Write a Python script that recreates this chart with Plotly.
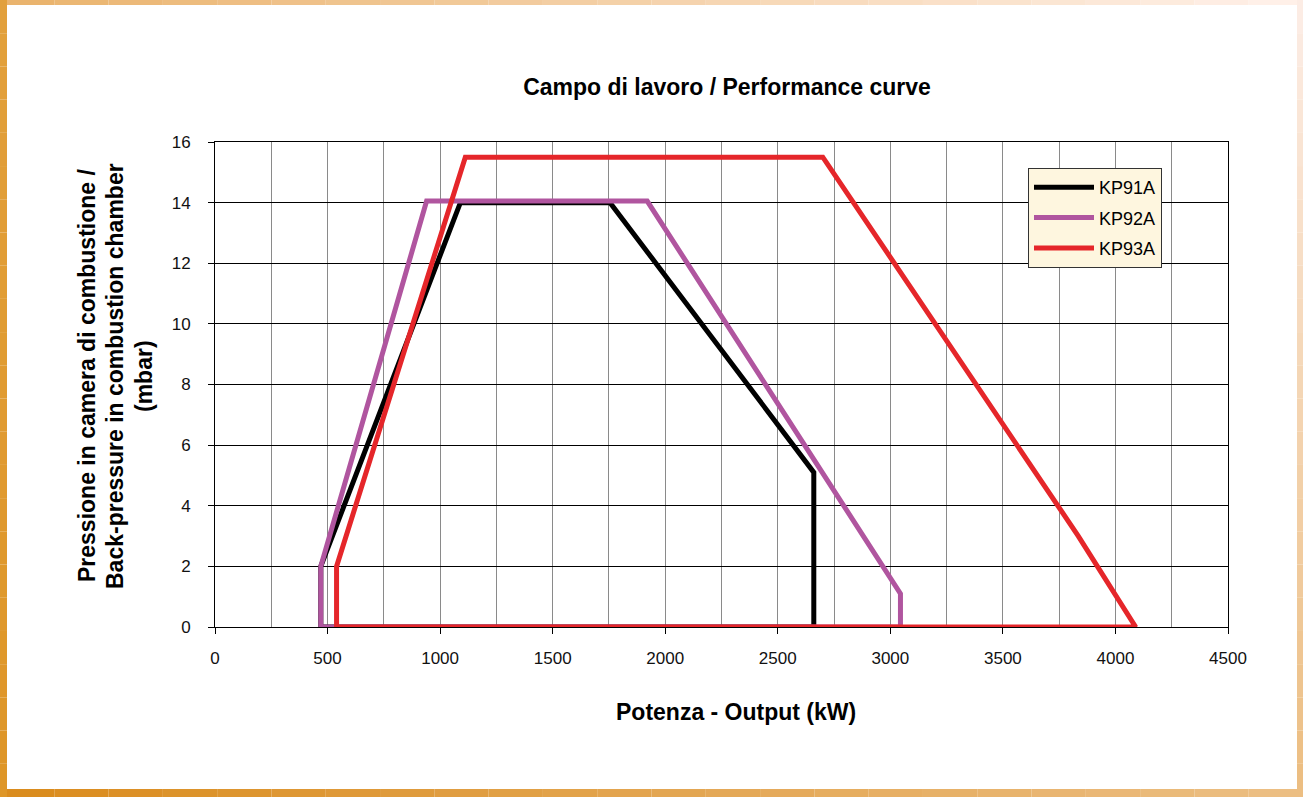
import plotly.graph_objects as go

# Working field outlines (output kW, back-pressure mbar)
kp91a_x = [470, 470, 1090, 1755, 2660, 2660, 470]
kp91a_y = [0, 2.0, 14.0, 14.0, 5.1, 0, 0]

kp92a_x = [470, 470, 940, 1920, 3045, 3045, 470]
kp92a_y = [0, 2.0, 14.05, 14.05, 1.1, 0, 0]

kp93a_x = [540, 540, 1112, 2700, 3835, 4090, 540]
kp93a_y = [0, 2.0, 15.5, 15.5, 3.0, 0, 0]

series = [
    ("KP91A", kp91a_x, kp91a_y, "#000000"),
    ("KP92A", kp92a_x, kp92a_y, "#B0559F"),
    ("KP93A", kp93a_x, kp93a_y, "#E5262A"),
]

W, H = 1303, 797
L, R, T, B = 215, 75, 142, 170
PW, PH = W - L - R, H - T - B

FONT = "Liberation Sans, Arial, sans-serif"


def px_x(p):
    return (p - L) / PW


def px_y(p):
    return (H - B - p) / PH


fig = go.Figure()

for name, xs, ys, color in series:
    fig.add_trace(
        go.Scatter(
            x=xs,
            y=ys,
            mode="lines",
            name=name,
            legendgroup=name,
            line=dict(color=color, width=5),
        )
    )


# Decorative orange frame around the picture (drawn as stepped strips)
def lerp(c1, c2, t):
    return "rgb(%d,%d,%d)" % tuple(round(a + (b - a) * t) for a, b in zip(c1, c2))


shapes = []
n = 24
for k in range(n):
    t = k / (n - 1)
    x0 = W * k / n
    x1 = W * (k + 1) / n
    # top strip
    shapes.append(dict(type="rect", xref="paper", yref="paper", layer="below",
                       x0=px_x(x0), x1=px_x(x1), y0=px_y(0), y1=px_y(5),
                       fillcolor=lerp((234, 180, 110), (255, 240, 232), t), line_width=0))
    # bottom strip
    shapes.append(dict(type="rect", xref="paper", yref="paper", layer="below",
                       x0=px_x(x0), x1=px_x(x1), y0=px_y(789), y1=px_y(797),
                       fillcolor=lerp((218, 140, 30), (236, 190, 130), t), line_width=0))
for k in range(n):
    t = k / (n - 1)
    y0 = H * k / n
    y1 = H * (k + 1) / n
    shapes.append(dict(type="rect", xref="paper", yref="paper", layer="below",
                       x0=px_x(0), x1=px_x(7), y0=px_y(y0), y1=px_y(y1),
                       fillcolor=lerp((226, 160, 60), (222, 150, 40), t), line_width=0))
    shapes.append(dict(type="rect", xref="paper", yref="paper", layer="below",
                       x0=px_x(1297), x1=px_x(1303), y0=px_y(y0), y1=px_y(y1),
                       fillcolor=lerp((252, 236, 228), (236, 190, 130), t), line_width=0))

annotations = [
    dict(text="<b>Potenza - Output (kW)</b>", xref="paper", yref="paper",
         x=px_x(736), y=px_y(712), xanchor="center", yanchor="middle",
         showarrow=False, font=dict(family=FONT, size=23, color="#000000")),
]
ytitle = [
    ("<b>Pressione in camera di combustione /</b>", 87),
    ("<b>Back-pressure in combustion chamber</b>", 115),
    ("<b>(mbar)</b>", 144),
]
for text, xp in ytitle:
    annotations.append(
        dict(text=text, xref="paper", yref="paper", x=px_x(xp), y=px_y(376),
             xanchor="center", yanchor="middle", textangle=-90, showarrow=False,
             font=dict(family=FONT, size=23, color="#000000"))
    )

fig.update_layout(
    width=W,
    height=H,
    margin=dict(l=L, r=R, t=T, b=B),
    paper_bgcolor="white",
    plot_bgcolor="white",
    font=dict(family=FONT, size=17, color="#111111"),
    title=dict(
        text="<b>Campo di lavoro / Performance curve</b>",
        x=px_x(727), xref="paper", xanchor="center",
        y=1 - 87 / H, yref="container", yanchor="middle",
        font=dict(family=FONT, size=23, color="#000000"),
    ),
    xaxis=dict(
        range=[0, 4500],
        dtick=500,
        tick0=0,
        showgrid=True,
        gridcolor="#8a8a8a",
        gridwidth=1,
        minor=dict(dtick=250, showgrid=True, gridcolor="#8a8a8a", gridwidth=1),
        showline=True,
        linecolor="#000000",
        linewidth=1,
        mirror=True,
        ticks="outside",
        ticklen=6,
        tickcolor="#000000",
        ticklabelstandoff=10,
        zeroline=False,
        fixedrange=True,
    ),
    yaxis=dict(
        range=[0, 16],
        dtick=2,
        tick0=0,
        showgrid=True,
        gridcolor="#000000",
        gridwidth=1,
        showline=True,
        linecolor="#000000",
        linewidth=1,
        mirror=True,
        ticks="outside",
        ticklen=6,
        tickcolor="#000000",
        ticklabelstandoff=14,
        zeroline=False,
        fixedrange=True,
    ),
    showlegend=True,
    legend=dict(
        x=px_x(1028), y=px_y(168), xanchor="left", yanchor="top",
        bgcolor="#FEF6DF",
        bordercolor="#333333",
        borderwidth=1,
        font=dict(family=FONT, size=18, color="#000000"),
        traceorder="grouped",
        tracegroupgap=4,
        itemwidth=60,
    ),
    shapes=shapes,
    annotations=annotations,
)

fig.write_html(
    "out.html",
    config={"displayModeBar": False},
    post_script="document.body.style.margin='0';document.body.style.overflow='hidden';",
)
